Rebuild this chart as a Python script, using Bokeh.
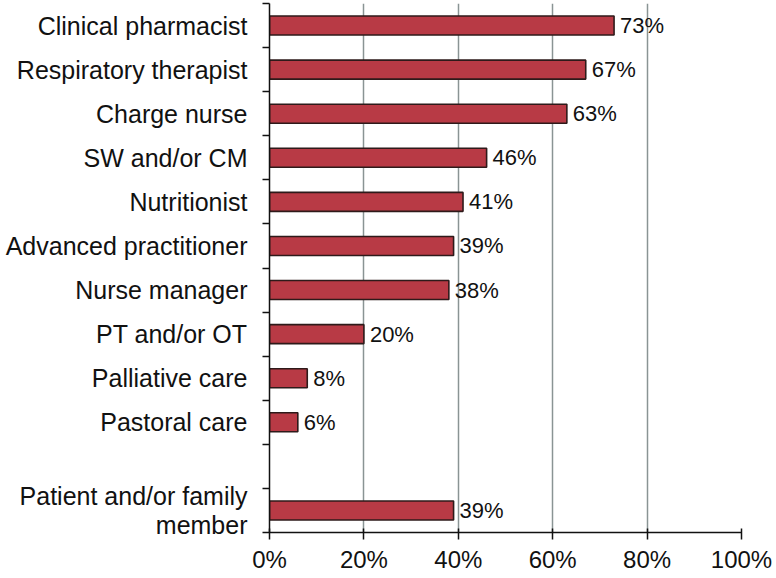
from bokeh.plotting import figure
from bokeh.models import Range1d, FixedTicker, ColumnDataSource
from bokeh.embed import file_html
from bokeh.resources import INLINE
from bokeh.core.properties import value

categories = ["Clinical pharmacist", "Respiratory therapist", "Charge nurse",
              "SW and/or CM", "Nutritionist", "Advanced practitioner",
              "Nurse manager", "PT and/or OT", "Palliative care", "Pastoral care",
              "", "Patient and/or family\nmember"]
percents = [73, 67, 63, 46, 41, 39, 38, 20, 8, 6, None, 39]
x_ticks = [0, 20, 40, 60, 80, 100]

FONT = "Liberation Sans"
n = len(categories)
ys, xs, labs = [], [], []
for i, v in enumerate(percents):
    if v is not None:
        ys.append(i + 0.5)
        xs.append(v)
        labs.append(f"{v}%")
src = ColumnDataSource(dict(y=ys, x=xs, lab=labs))

p = figure(width=776, height=578, output_backend="svg", toolbar_location=None,
           x_range=Range1d(0, 100), y_range=Range1d(n, 0),
           min_border_left=269, min_border_right=35, min_border_top=3, min_border_bottom=46)
p.outline_line_color = None
p.background_fill_color = "white"

p.hbar(y="y", left=0, right="x", height=0.43, source=src,
       fill_color="#b83a45", line_color="#2e1a1a", line_width=1.6)
p.text(x="x", y="y", text="lab", source=src, x_offset=6,
       text_font=value(FONT), text_font_size="22px", text_color="#111111",
       text_align="left", text_baseline="middle")

# x axis
p.xaxis.ticker = FixedTicker(ticks=x_ticks)
p.xaxis.major_label_overrides = {t: f"{t}%" for t in x_ticks}
p.xaxis.major_tick_out = 7
p.xaxis.major_tick_in = 4
p.xaxis.minor_tick_out = 0
p.xaxis.axis_line_width = 1.5
p.xaxis.major_tick_line_width = 1.5
p.xaxis.axis_line_color = "#111111"
p.xaxis.major_tick_line_color = "#111111"
p.xaxis.major_label_text_font = FONT
p.xaxis.major_label_text_font_size = "24px"
p.xaxis.major_label_text_color = "#111111"
p.xaxis.major_label_standoff = 6

# y axis
p.yaxis.ticker = FixedTicker(ticks=[i + 0.5 for i in range(n)],
                             minor_ticks=list(range(n + 1)))
p.yaxis.major_label_overrides = {i + 0.5: c for i, c in enumerate(categories)}
p.yaxis.major_tick_out = 0
p.yaxis.major_tick_in = 0
p.yaxis.minor_tick_out = 7
p.yaxis.minor_tick_in = 0
p.yaxis.minor_tick_line_width = 1.5
p.yaxis.minor_tick_line_color = "#111111"
p.yaxis.axis_line_width = 1.5
p.yaxis.axis_line_color = "#111111"
p.yaxis.major_label_text_font = FONT
p.yaxis.major_label_text_font_size = "25px"
p.yaxis.major_label_text_color = "#111111"
p.yaxis.major_label_text_line_height = 1.05
p.yaxis.major_label_standoff = 15

p.xgrid.ticker = FixedTicker(ticks=x_ticks[1:])
p.xgrid.grid_line_color = "#8a9494"
p.xgrid.grid_line_width = 1.5
p.ygrid.grid_line_color = None

open("out.html", "w").write(file_html(p, INLINE))
